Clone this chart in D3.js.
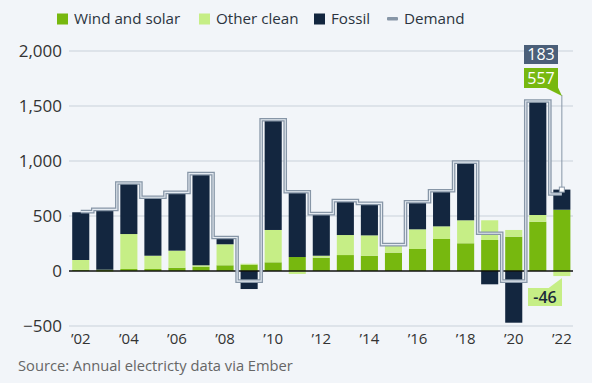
<!DOCTYPE html>
<html>
<head>
<meta charset="utf-8">
<script src="https://cdn.jsdelivr.net/npm/d3@7"></script>
<style>
  html, body { margin: 0; padding: 0; background: #f2f5f9; }
  svg { display: block; font-family: "Open Sans", sans-serif; }
</style>
</head>
<body>
<svg id="chart" width="592" height="383"></svg>
<script>
const years = [2002,2003,2004,2005,2006,2007,2008,2009,2010,2011,2012,2013,2014,2015,2016,2017,2018,2019,2020,2021,2022];
const windSolar = [10,12,18,18,30,40,52,58,79,127,121,145,139,167,200,291,252,282,312,448,557];
const otherClean = [90,-8,318,121,155,12,191,8,294,-27,18,182,185,60,179,115,209,179,61,61,-46];
const fossil = [434,536,455,522,521,827,54,-164,991,585,376,303,282,0,245,318,524,-121,-470,1024,183];
const demand = [540,560,800,670,715,885,305,-92,1375,720,522,640,615,240,630,730,990,343,-92,1545,700];
const yTicks = [-500,0,500,1000,1500,2000];
const xTickYears = [2002,2004,2006,2008,2010,2012,2014,2016,2018,2020,2022];
const seriesNames = ["Wind and solar","Other clean","Fossil"];
const colors = {"Wind and solar":"#77b80f","Other clean":"#c6ee86","Fossil":"#13263f"};
const demandColor = "#8796a7";

const svg = d3.select("#chart");
const x = d3.scaleBand().domain(years).range([68.6, 574]).paddingInner(0.29).paddingOuter(0.15);
const y = d3.scaleLinear().domain([-500, 2000]).range([326, 51]);
const gx0 = 69, gx1 = 573;

// gridlines
svg.append("g").selectAll("line").data(yTicks.filter(t => t !== 0)).join("line")
  .attr("x1", gx0).attr("x2", gx1).attr("y1", d => y(d)).attr("y2", d => y(d))
  .attr("stroke", "#c9d1da").attr("stroke-width", 1);

// y labels
const yAxis = d3.axisLeft(y).tickValues(yTicks).tickFormat(d3.format(",")).tickSize(0).tickPadding(0);
const gy = svg.append("g").attr("transform", "translate(62,0)").call(yAxis);
gy.select(".domain").remove();
gy.selectAll("text").attr("font-size", 17).attr("fill", "#333").attr("font-family", "Open Sans, sans-serif").attr("dy", "0.35em");

// x labels
const xAxis = d3.axisBottom(x).tickValues(xTickYears).tickFormat(d => "\u2019" + String(d).slice(2)).tickSize(0).tickPadding(0);
const gxa = svg.append("g").attr("transform", "translate(0,333)").call(xAxis);
gxa.select(".domain").remove();
gxa.selectAll("text").attr("font-size", 15).attr("fill", "#333").attr("font-family", "Open Sans, sans-serif").attr("dy", "0.75em");

// stacked bars
const table = years.map((yr, i) => ({year: yr, "Wind and solar": windSolar[i], "Other clean": otherClean[i], "Fossil": fossil[i]}));
const stack = d3.stack().keys(seriesNames).offset(d3.stackOffsetDiverging);
const layers = stack(table);
svg.append("g").selectAll("g").data(layers).join("g")
  .attr("fill", d => colors[d.key])
  .selectAll("rect").data(d => d).join("rect")
  .attr("x", d => x(d.data.year))
  .attr("width", x.bandwidth())
  .attr("y", d => y(Math.max(d[0], d[1])))
  .attr("height", d => Math.abs(y(d[0]) - y(d[1])));

// zero line
svg.append("line").attr("x1", gx0).attr("x2", gx1).attr("y1", y(0)).attr("y2", y(0))
  .attr("stroke", "#111").attr("stroke-width", 1.5);

// demand step line
const dLine = d3.line().x((d, i) => x(years[i]) + x.bandwidth() / 2).y(d => y(d)).curve(d3.curveStep);
svg.append("path").attr("d", dLine(demand)).attr("fill", "none").attr("stroke", demandColor).attr("stroke-width", 3.6);
svg.append("path").attr("d", dLine(demand)).attr("fill", "none").attr("stroke", "#e4eaf1").attr("stroke-width", 1.1);

// annotations for 2022
const last = years.length - 1;
const cx = x(years[last]) + x.bandwidth() / 2;
const topVal = windSolar[last] + fossil[last];
svg.append("line").attr("x1", cx).attr("x2", cx).attr("y1", 95).attr("y2", y(topVal))
  .attr("stroke", demandColor).attr("stroke-width", 1);
svg.append("rect").attr("x", cx - 2.5).attr("y", y(topVal) - 2.5).attr("width", 5).attr("height", 5)
  .attr("fill", "#fff").attr("stroke", demandColor).attr("stroke-width", 1);
// 183 box
svg.append("rect").attr("x", 524).attr("y", 45).attr("width", 34).attr("height", 19).attr("fill", "#4b5f79");
svg.append("text").attr("x", 541).attr("y", 54.5).attr("dy", "0.36em").attr("text-anchor", "middle")
  .attr("fill", "#fff").attr("font-size", 16).text(fossil[last]);
// 557 box
svg.append("rect").attr("x", 524).attr("y", 68).attr("width", 34).attr("height", 20).attr("fill", colors["Wind and solar"]);
svg.append("path").attr("d", "M545,87.5 L558,87.5 L562,96 Z").attr("fill", colors["Wind and solar"]);
svg.append("text").attr("x", 541).attr("y", 78).attr("dy", "0.36em").attr("text-anchor", "middle")
  .attr("fill", "#fff").attr("font-size", 16).text(windSolar[last]);
// -46 box
svg.append("rect").attr("x", 528).attr("y", 288).attr("width", 34).attr("height", 18).attr("fill", colors["Other clean"]);
svg.append("path").attr("d", "M548,288.5 L562,288.5 L562,278 Z").attr("fill", colors["Other clean"]);
svg.append("text").attr("x", 545).attr("y", 297).attr("dy", "0.36em").attr("text-anchor", "middle")
  .attr("fill", "#1a2a3a").attr("font-size", 16).attr("font-weight", 600).text(otherClean[last]);

// legend
const legendItems = [
  {name: "Wind and solar", sx: 57, tx: 74, type: "sq"},
  {name: "Other clean", sx: 199, tx: 216, type: "sq"},
  {name: "Fossil", sx: 314, tx: 331, type: "sq"},
  {name: "Demand", sx: 387, tx: 404, type: "dash"}
];
const lg = svg.append("g");
legendItems.forEach(it => {
  if (it.type === "sq") {
    lg.append("rect").attr("x", it.sx).attr("y", 13.5).attr("width", 11).attr("height", 11).attr("fill", colors[it.name]);
  } else {
    lg.append("rect").attr("x", it.sx).attr("y", 17).attr("width", 11).attr("height", 3.5).attr("rx", 1).attr("fill", demandColor);
  }
  lg.append("text").attr("x", it.tx).attr("y", 19).attr("dy", "0.35em").attr("font-size", 15.2).attr("fill", "#2b3440").text(it.name);
});

// source
svg.append("text").attr("x", 18).attr("y", 371).attr("font-size", 14.7).attr("fill", "#666").text("Source: Annual electricty data via Ember");
</script>
</body>
</html>
